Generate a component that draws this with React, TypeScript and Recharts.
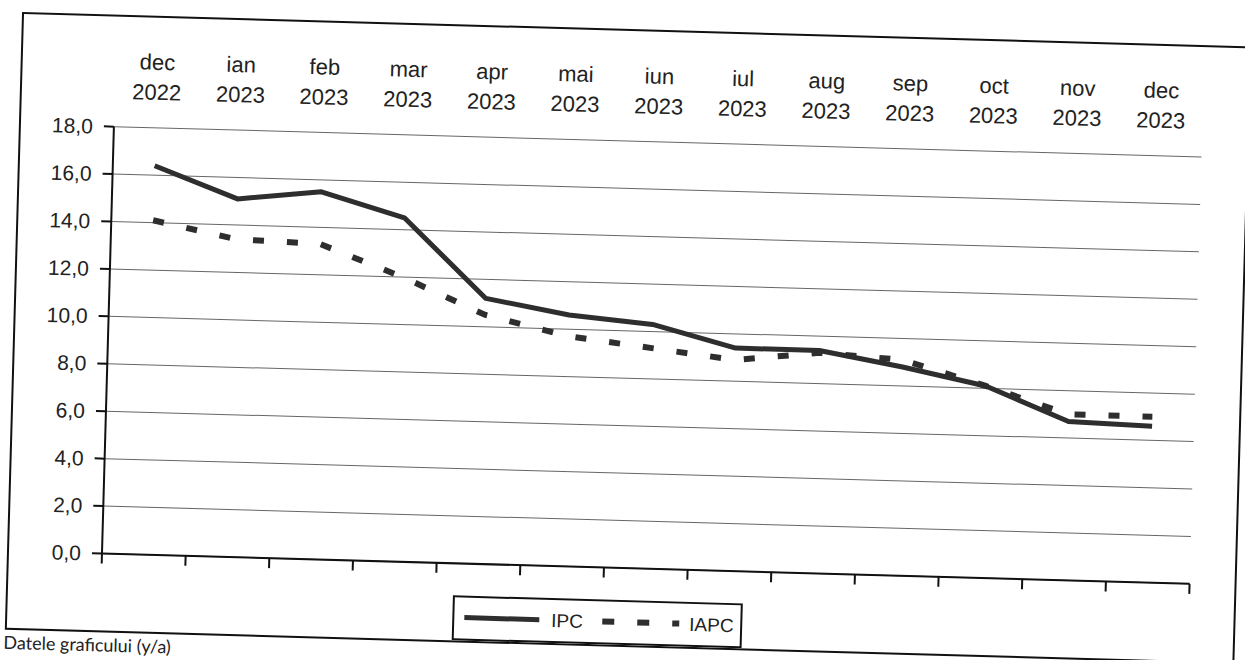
import React from "react";
import {
  LineChart,
  Line,
  XAxis,
  YAxis,
  CartesianGrid
} from "recharts";

// luni (rândul de sus) și ani (rândul de jos) ale etichetelor axei X
const months = ["dec", "ian", "feb", "mar", "apr", "mai", "iun", "iul", "aug", "sep", "oct", "nov", "dec"];
const years = ["2022", "2023", "2023", "2023", "2023", "2023", "2023", "2023", "2023", "2023", "2023", "2023", "2023"];

// rata anuală, %
const ipcValues = [16.4, 15.1, 15.5, 14.5, 11.2, 10.6, 10.3, 9.4, 9.4, 8.8, 8.1, 6.7, 6.6];
const iapcValues = [14.1, 13.4, 13.3, 12.0, 10.5, 9.7, 9.3, 8.9, 9.3, 9.1, 8.1, 7.0, 7.0];

const yTicks = [0, 2, 4, 6, 8, 10, 12, 14, 16, 18];

const data = months.map((m, i) => ({
  i,
  ipc: ipcValues[i],
  iapc: iapcValues[i]
}));

// ticks between categories for the bottom axis
const boundaryTicks = [...months.map((_, i) => i - 0.5), months.length - 0.5];

const FONT = "'Liberation Sans', Arial, sans-serif";
const INK = "#222";

const TopTick = (props: any) => {
  const { x, y, payload } = props;
  const i = payload.value;
  return (
    <text x={x} y={y} textAnchor="middle" fontFamily={FONT} fontSize={22} fill={INK}>
      <tspan x={x} dy={-58}>{months[i]}</tspan>
      <tspan x={x} dy={30}>{years[i]}</tspan>
    </text>
  );
};

// bottom axis only shows tick marks, no labels
const NoLabel = () => <g />;

const LegendBox: React.FC = () => (
  <div
    style={{
      position: "absolute",
      left: 460,
      top: 600,
      width: 290,
      height: 45,
      border: "2px solid #111",
      boxSizing: "border-box",
      background: "#fff"
    }}
  >
    <svg width={290} height={41} style={{ position: "absolute", left: 0, top: 0 }}>
      <line x1={10} y1={20} x2={85} y2={20} stroke="#2e2e2e" strokeWidth={5} />
      <text x={97} y={27} fontFamily={FONT} fontSize={19} fill={INK}>IPC</text>
      <line x1={148} y1={20} x2={225} y2={20} stroke="#2e2e2e" strokeWidth={6} strokeDasharray="12 23" />
      <text x={235} y={27} fontFamily={FONT} fontSize={19} fill={INK}>IAPC</text>
    </svg>
  </div>
);

const App: React.FC = () => {
  return (
    <div
      style={{
        position: "absolute",
        left: 0,
        top: 0,
        width: 1245,
        height: 660,
        overflow: "hidden",
        background: "#fff"
      }}
    >
      <div
        style={{
          position: "absolute",
          left: 0,
          top: 0,
          width: 1245,
          height: 660,
          transform: "rotate(1.6deg)",
          transformOrigin: "625px 345px"
        }}
      >
        <div
          style={{
            position: "absolute",
            left: 13,
            top: 29,
            width: 1230,
            height: 618,
            border: "2px solid #111",
            boxSizing: "border-box"
          }}
        />
        <div style={{ position: "absolute", left: 0, top: 0 }}>
          <LineChart
            width={1245}
            height={660}
            data={data}
            margin={{ top: 31, right: 49, bottom: 62, left: 8 }}
          >
            <CartesianGrid vertical={false} stroke="#666" strokeWidth={1} />
            <XAxis
              dataKey="i"
              type="number"
              orientation="top"
              domain={[-0.5, months.length - 0.5]}
              ticks={months.map((_, i) => i)}
              interval={0}
              height={110}
              axisLine={false}
              tickLine={false}
              tickSize={0}
              tickMargin={0}
              tick={<TopTick />}
            />
            <XAxis
              xAxisId="b"
              dataKey="i"
              type="number"
              orientation="bottom"
              domain={[-0.5, months.length - 0.5]}
              ticks={boundaryTicks}
              interval={0}
              height={30}
              tick={<NoLabel />}
              tickSize={10}
              axisLine={{ stroke: "#111", strokeWidth: 2 }}
              tickLine={{ stroke: "#111", strokeWidth: 2 }}
            />
            <YAxis
              domain={[0, 18]}
              ticks={yTicks}
              interval={0}
              width={100}
              tickSize={10}
              tickMargin={11}
              tickFormatter={(v: number) => v.toFixed(1).replace(".", ",")}
              tick={{ fontFamily: FONT, fontSize: 21, fill: INK }}
              axisLine={{ stroke: "#111", strokeWidth: 2 }}
              tickLine={{ stroke: "#111", strokeWidth: 2 }}
            />
            <Line
              type="linear"
              dataKey="ipc"
              name="IPC"
              stroke="#2e2e2e"
              strokeWidth={5}
              strokeLinejoin="round"
              dot={false}
              activeDot={false}
              isAnimationActive={false}
            />
            <Line
              type="linear"
              dataKey="iapc"
              name="IAPC"
              stroke="#2e2e2e"
              strokeWidth={6}
              strokeDasharray="11 23"
              dot={false}
              activeDot={false}
              isAnimationActive={false}
            />
          </LineChart>
        </div>
        <LegendBox />
        <div
          style={{
            position: "absolute",
            left: 12,
            top: 649,
            fontFamily: "Lato, 'Open Sans', sans-serif",
            fontSize: 18,
            lineHeight: "20px",
            color: INK,
            whiteSpace: "nowrap"
          }}
        >
          Datele graficului (y/a)
        </div>
      </div>
    </div>
  );
};

export default App;
